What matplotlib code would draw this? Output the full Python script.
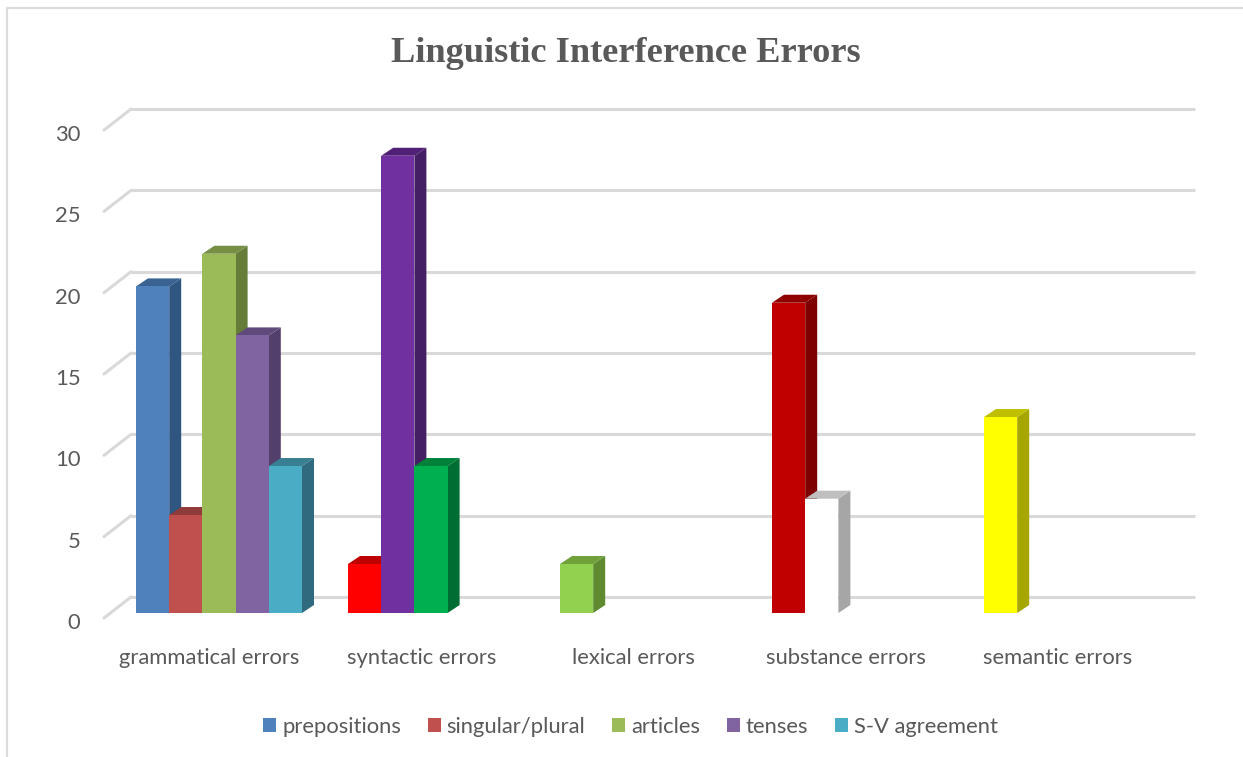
import matplotlib
matplotlib.use("Agg")
import matplotlib.pyplot as plt
from matplotlib.lines import Line2D
from matplotlib.patches import Patch, Polygon
from matplotlib.transforms import ScaledTranslation

W, H = 1243, 757

categories = ["grammatical errors", "syntactic errors", "lexical errors",
              "substance errors", "semantic errors"]
legend_names = ["prepositions", "singular/plural", "articles", "tenses", "S-V agreement"]
legend_colors = ["#4F81BD", "#C0504D", "#9BBB59", "#8064A2", "#4BACC6"]
y_ticks = [0, 5, 10, 15, 20, 25, 30]

# bars of each group, left to right
grammatical = [20, 6, 22, 17, 9]
syntactic = [3, 28, 9]
lexical = [3]
substance = [19, 7]
semantic = [12]
groups = [grammatical, syntactic, lexical, substance, semantic]

# (front, top, side) shades
grammatical_col = [("#4F81BD", "#3A6391", "#2F5681"), ("#C0504D", "#8F3B39", "#7A2F2E"),
                   ("#9BBB59", "#768F44", "#667D3A"), ("#8064A2", "#604A7B", "#533F6C"),
                   ("#4BACC6", "#387F93", "#2F6A7E")]
syntactic_col = [("#FF0000", "#BF0000", "#A60000"), ("#7030A0", "#501F76", "#451F63"),
                 ("#00B050", "#008139", "#006E32")]
lexical_col = [("#92D050", "#6FA03A", "#5F8A30")]
substance_col = [("#C00000", "#8F0000", "#7F0000"), ("#FFFFFF", "#BFBFBF", "#A6A6A6")]
semantic_col = [("#FFFF00", "#BFBF00", "#A6A600")]
group_cols = [grammatical_col, syntactic_col, lexical_col, substance_col, semantic_col]

# pixel scale of the plot
PX_X = 212.0    # per category
PX_Y = 16.33    # per unit
WALL = 0.996    # back wall is a touch smaller than the front plane
LEFT, BASE, RIGHT, TOP = 136, 613, 1195, 100
GRID = "#D9D9D9"
TXT = "#595959"

plt.rcParams["font.family"] = ["Lato", "DejaVu Sans"]
fig = plt.figure(figsize=(W / 100, H / 100), dpi=100)
ax = fig.add_axes([LEFT / W, 1 - BASE / H, (RIGHT - LEFT) / W, (BASE - TOP) / H])
ax.set_xlim(0, (RIGHT - LEFT) / PX_X)
ax.set_ylim(0, (BASE - TOP) / PX_Y)
ax.patch.set_visible(False)
for s in ax.spines.values():
    s.set_visible(False)

# chart frame
fig.add_artist(Line2D([7 / W, 7 / W, 1], [0, 1 - 8 / H, 1 - 8 / H], color="#DCDCDC", lw=1.6))

# back wall gridlines and the slanted floor/wall edge
for v in y_ticks:
    wall_v = v * WALL
    back = wall_v + 16 / PX_Y
    ax.plot([-32 / PX_X, -5 / PX_X], [wall_v - 5 / PX_Y, back], color=GRID, lw=2.2,
            clip_on=False, solid_capstyle="round", zorder=1)
    ax.plot([-5 / PX_X, (RIGHT - LEFT) / PX_X], [back, back], color=GRID, lw=2.2,
            clip_on=False, solid_capstyle="butt", zorder=1)

# fake 3d columns: front from ax.bar, top and side as polygons
dx = 12 / PX_X
dy = 8 / PX_Y
bw = 33.2 / PX_X
z = 2
for i, (vals, cols) in enumerate(zip(groups, group_cols)):
    for j, (v, c) in enumerate(zip(vals, cols)):
        x0 = i + j * bw
        x1 = x0 + bw
        ax.add_patch(Polygon([(x1, 0), (x1 + dx, dy), (x1 + dx, v + dy), (x1, v)],
                             fc=c[2], ec="none", zorder=z, clip_on=False))
        ax.add_patch(Polygon([(x0, v), (x0 + dx, v + dy), (x1 + dx, v + dy), (x1, v)],
                             fc=c[1], ec="none", zorder=z, clip_on=False))
        ax.bar(x0, v, width=bw, align="edge", color=c[0], zorder=z, clip_on=False)
        z += 1

ax.set_xticks([i + 0.347 for i in range(len(categories))])
ax.set_xticklabels(categories, fontsize=15.8, color=TXT)
ax.set_yticks([v * WALL for v in y_ticks])
ax.set_yticklabels([str(v) for v in y_ticks], fontsize=15.8, color=TXT)
ax.tick_params(axis="x", length=0, pad=25)
ax.tick_params(axis="y", length=0, pad=40)
shift = ScaledTranslation(0, -8 / 100, fig.dpi_scale_trans)
for lab in ax.get_yticklabels():
    lab.set_transform(lab.get_transform() + shift)

fig.text(626 / W, 1 - 62 / H, "Linguistic Interference Errors", ha="center", va="baseline",
         fontsize=26.2, fontweight="bold", color=TXT, family="Liberation Serif")

handles = [Patch(fc=c, ec="none") for c in legend_colors]
fig.legend(handles, legend_names, loc="center", bbox_to_anchor=(630.5 / W, 1 - 727 / H), ncol=5,
           frameon=False, fontsize=15.8, labelcolor=TXT, handlelength=0.59, handleheight=0.59,
           handletextpad=0.27, columnspacing=1.22)

fig.savefig("out.png", dpi=100)
